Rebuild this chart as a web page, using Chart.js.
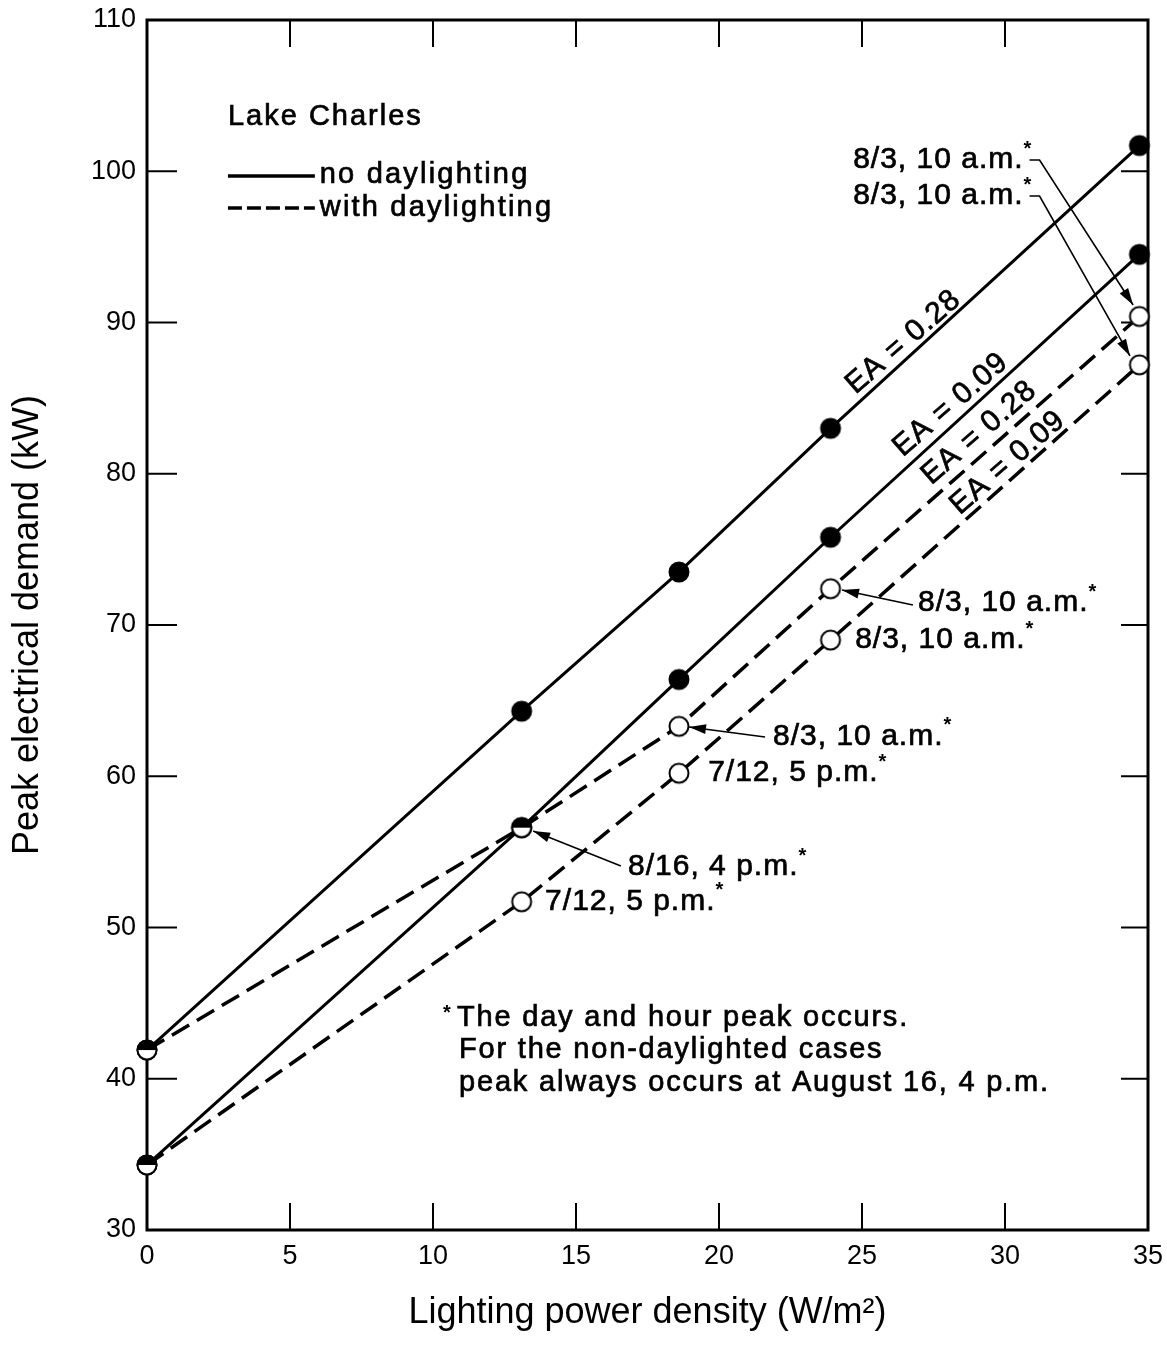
<!DOCTYPE html>
<html>
<head>
<meta charset="utf-8">
<script src="https://cdn.jsdelivr.net/npm/chart.js@4.4.1/dist/chart.umd.min.js"></script>
<style>
  html, body { margin: 0; padding: 0; background: #fff; }
</style>
</head>
<body>
<canvas id="chart" width="1167" height="1348"></canvas>
<script>
// lighting power density (W/m2) of the five cases
const lpd = [0, 13.1, 18.6, 23.9, 34.7];
// peak electrical demand (kW)
const noDay028 = [41.9, 64.3, 73.5, 83.0, 101.7];
const noDay009 = [34.3, 56.6, 66.4, 75.8, 94.5];
const withDay028 = [41.9, 56.6, 63.3, 72.4, 90.4];
const withDay009 = [34.3, 51.7, 60.2, 69.0, 87.2];

const xTicks = [0, 5, 10, 15, 20, 25, 30, 35];
const yTicks = [30, 40, 50, 60, 70, 80, 90, 100, 110];

const FONT = '"Liberation Sans", Arial, Helvetica, sans-serif';

// marker images: filled, open, half filled (top black)
function marker(kind) {
  const r = 9.5, s = 24, c = document.createElement("canvas");
  c.width = s; c.height = s;
  const g = c.getContext("2d");
  g.beginPath(); g.arc(s / 2, s / 2, r, 0, Math.PI * 2);
  g.fillStyle = kind === "filled" ? "#000" : "#fff"; g.fill();
  if (kind === "half") {
    g.beginPath(); g.arc(s / 2, s / 2, r, Math.PI, Math.PI * 2); g.closePath();
    g.fillStyle = "#000"; g.fill();
  }
  g.beginPath(); g.arc(s / 2, s / 2, r, 0, Math.PI * 2);
  g.lineWidth = 2; g.strokeStyle = "#000"; g.stroke();
  return c;
}
const F = marker("filled"), O = marker("open"), H = marker("half");

const toPts = (ys) => ys.map((y, i) => ({ x: lpd[i], y: y }));

function series(label, ys, dashed, styles) {
  return {
    label: label,
    data: toPts(ys),
    borderColor: "#000",
    borderWidth: dashed ? 3.5 : 3,
    borderDash: dashed ? [20, 9] : [],
    pointStyle: styles,
    pointRadius: 12,
    clip: false,
    tension: 0
  };
}

function px(chart, x) { return chart.scales.x.getPixelForValue(x); }
function py(chart, y) { return chart.scales.y.getPixelForValue(y); }

// scanned-looking text: fill plus a thin stroke
function text(ctx, t, x, y, size, spacing) {
  ctx.font = size + "px " + FONT;
  ctx.letterSpacing = (spacing === undefined ? 1 : spacing) + "px";
  ctx.fillText(t, x, y);
  ctx.lineWidth = 0.7;
  ctx.strokeText(t, x, y);
}

function starLabel(ctx, t, x, y) {
  ctx.textAlign = "left";
  ctx.textBaseline = "middle";
  text(ctx, t, x, y, 30);
  const w = ctx.measureText(t).width;
  ctx.font = "bold 20px " + FONT;
  ctx.letterSpacing = "0px";
  ctx.fillText("*", x + w, y - 11);
  return x + w + 10;
}

function arrow(ctx, pts) {
  ctx.save();
  ctx.lineWidth = 1.6;
  ctx.strokeStyle = "#000";
  ctx.setLineDash([]);
  ctx.beginPath();
  ctx.moveTo(pts[0][0], pts[0][1]);
  for (let i = 1; i < pts.length; i++) ctx.lineTo(pts[i][0], pts[i][1]);
  ctx.stroke();
  const [x1, y1] = pts[pts.length - 2], [x2, y2] = pts[pts.length - 1];
  const a = Math.atan2(y2 - y1, x2 - x1), L = 17, W = 5;
  ctx.beginPath();
  ctx.moveTo(x2, y2);
  ctx.lineTo(x2 - L * Math.cos(a) + W * Math.sin(a), y2 - L * Math.sin(a) - W * Math.cos(a));
  ctx.lineTo(x2 - L * Math.cos(a) - W * Math.sin(a), y2 - L * Math.sin(a) + W * Math.cos(a));
  ctx.closePath();
  ctx.fillStyle = "#000";
  ctx.fill();
  ctx.restore();
}

const framePlugin = {
  id: "frame",
  beforeDatasetsDraw(chart) {
    const { ctx, chartArea: a } = chart;
    ctx.save();
    ctx.strokeStyle = "#000";
    ctx.lineWidth = 2;
    yTicks.forEach(v => {
      const y = py(chart, v);
      ctx.beginPath(); ctx.moveTo(a.left, y); ctx.lineTo(a.left + 30, y); ctx.stroke();
      ctx.beginPath(); ctx.moveTo(a.right, y); ctx.lineTo(a.right - 27, y); ctx.stroke();
    });
    xTicks.forEach(v => {
      const x = px(chart, v);
      ctx.beginPath(); ctx.moveTo(x, a.bottom); ctx.lineTo(x, a.bottom - 27); ctx.stroke();
      ctx.beginPath(); ctx.moveTo(x, a.top); ctx.lineTo(x, a.top + 27); ctx.stroke();
    });
    ctx.lineWidth = 3;
    ctx.strokeRect(a.left, a.top, a.right - a.left, a.bottom - a.top);
    ctx.restore();
  },
  afterDraw(chart) {
    const ctx = chart.ctx;
    const X = (v) => px(chart, v), Y = (v) => py(chart, v);
    ctx.save();
    ctx.fillStyle = "#000";
    ctx.strokeStyle = "#000";
    ctx.textAlign = "left";
    ctx.textBaseline = "middle";

    // title and legend
    text(ctx, "Lake Charles", X(2.83), Y(103.6), 29, 2);
    ctx.lineWidth = 3.5;
    ctx.beginPath(); ctx.moveTo(X(2.83), Y(99.69)); ctx.lineTo(X(5.87), Y(99.69)); ctx.stroke();
    ctx.setLineDash([14, 5]);
    ctx.beginPath(); ctx.moveTo(X(2.83), Y(97.57)); ctx.lineTo(X(5.87), Y(97.57)); ctx.stroke();
    ctx.setLineDash([]);
    text(ctx, "no daylighting", X(6.04), Y(99.75), 29, 2.2);
    text(ctx, "with daylighting", X(6.04), Y(97.6), 29, 2.2);

    // curve labels along the lines
    const ea = [["EA = 0.28", 26.45, 88.7], ["EA = 0.09", 28.1, 84.55],
                ["EA = 0.28", 29.1, 82.7], ["EA = 0.09", 30.1, 80.72]];
    ea.forEach(([t, x, y]) => {
      ctx.save();
      ctx.translate(X(x), Y(y));
      ctx.rotate(-41 * Math.PI / 180);
      ctx.textAlign = "center";
      text(ctx, t, 0, 0, 30);
      ctx.restore();
    });

    // peak time labels
    let e = starLabel(ctx, "8/3, 10 a.m.", X(24.69), Y(100.74));
    arrow(ctx, [[e - 4, Y(100.74)], [e + 6, Y(100.74)], [X(34.48), Y(91.16)]]);
    e = starLabel(ctx, "8/3, 10 a.m.", X(24.69), Y(98.36));
    arrow(ctx, [[e - 4, Y(98.36)], [e + 6, Y(98.36)], [X(34.37), Y(87.79)]]);

    starLabel(ctx, "8/3, 10 a.m.", X(26.96), Y(71.45));
    arrow(ctx, [[X(26.78), Y(71.32)], [X(24.30), Y(72.31)]]);
    starLabel(ctx, "8/3, 10 a.m.", X(24.76), Y(69.0));

    starLabel(ctx, "8/3, 10 a.m.", X(21.89), Y(62.6));
    arrow(ctx, [[X(21.61), Y(62.6)], [X(18.95), Y(63.26)]]);
    starLabel(ctx, "7/12, 5 p.m.", X(19.62), Y(60.21));

    starLabel(ctx, "8/16, 4 p.m.", X(16.82), Y(54.0));
    arrow(ctx, [[X(16.57), Y(54.07)], [X(13.50), Y(56.38)]]);
    starLabel(ctx, "7/12, 5 p.m.", X(13.92), Y(51.69));

    // footnote
    ctx.font = "bold 20px " + FONT;
    ctx.letterSpacing = "0px";
    ctx.fillText("*", X(10.35), Y(44.3));
    text(ctx, "The day and hour peak occurs.", X(10.84), Y(44.02), 29, 1.8);
    text(ctx, "For the non-daylighted cases", X(10.91), Y(41.9), 29, 1.8);
    text(ctx, "peak always occurs at August 16, 4 p.m.", X(10.91), Y(39.72), 29, 1.8);
    ctx.restore();
  }
};

new Chart(document.getElementById("chart"), {
  type: "line",
  data: {
    datasets: [
      series("no daylighting, EA = 0.28", noDay028, false, [H, F, F, F, F]),
      series("no daylighting, EA = 0.09", noDay009, false, [H, H, F, F, F]),
      series("with daylighting, EA = 0.28", withDay028, true, [H, H, O, O, O]),
      series("with daylighting, EA = 0.09", withDay009, true, [H, O, O, O, O])
    ]
  },
  options: {
    responsive: false,
    animation: false,
    layout: { autoPadding: false, padding: { top: 20, right: 19, left: 0, bottom: 0 } },
    plugins: { legend: { display: false }, tooltip: { enabled: false } },
    scales: {
      x: {
        type: "linear",
        min: 0, max: 35,
        afterFit: (s) => { s.height = 118; s.paddingLeft = 0; s.paddingRight = 0; },
        afterBuildTicks: (s) => { s.ticks = xTicks.map(v => ({ value: v })); },
        grid: { display: false, drawTicks: false },
        border: { display: false },
        ticks: { color: "#000", padding: 10, font: { family: FONT, size: 27 } },
        title: {
          display: true,
          text: "Lighting power density (W/m²)",
          color: "#000",
          font: { family: FONT, size: 36 },
          padding: { top: 0, bottom: 13 }
        }
      },
      y: {
        min: 30, max: 110,
        afterFit: (s) => { s.width = 147; s.paddingTop = 0; s.paddingBottom = 0; },
        afterBuildTicks: (s) => { s.ticks = yTicks.map(v => ({ value: v })); },
        grid: { display: false, drawTicks: false },
        border: { display: false },
        ticks: { color: "#000", padding: 11, font: { family: FONT, size: 27 } },
        title: {
          display: true,
          text: "Peak electrical demand (kW)",
          color: "#000",
          font: { family: FONT, size: 36 },
          padding: { top: 6, bottom: 0 }
        }
      }
    }
  },
  plugins: [framePlugin]
});
</script>
</body>
</html>
